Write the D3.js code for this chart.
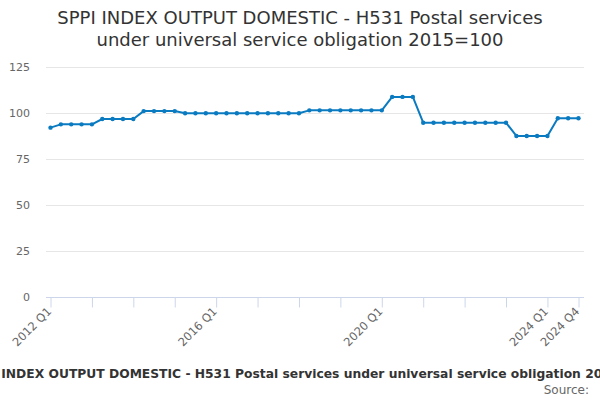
<!DOCTYPE html>
<html>
<head>
<meta charset="utf-8">
<script src="https://cdn.jsdelivr.net/npm/d3@7"></script>
<style>
  html, body { margin: 0; padding: 0; background: #fff; }
  svg { display: block; font-family: "DejaVu Sans", sans-serif; }
</style>
</head>
<body>
<svg id="chart" width="600" height="400"></svg>
<script>
const years = [2012, 2013, 2014, 2015, 2016, 2017, 2018, 2019, 2020, 2021, 2022, 2023, 2024];
const quarters = ["Q1", "Q2", "Q3", "Q4"];
const categories = [];
years.forEach(y => quarters.forEach(q => categories.push(y + " " + q)));
const values = [
  92.2,
  94.0, 94.0, 94.0, 94.0,
  96.9, 96.9, 96.9, 96.9,
  101.2, 101.2, 101.2, 101.2,
  100.0, 100.0, 100.0, 100.0, 100.0, 100.0, 100.0, 100.0, 100.0, 100.0, 100.0, 100.0,
  101.6, 101.6, 101.6, 101.6, 101.6, 101.6, 101.6, 101.6,
  108.9, 108.9, 108.9,
  94.9, 94.9, 94.9, 94.9, 94.9, 94.9, 94.9, 94.9, 94.9,
  87.7, 87.7, 87.7, 87.7,
  97.3, 97.3, 97.3
];
const yTicks = [0, 25, 50, 75, 100, 125];
const labelledTicks = ["2012 Q1", "2016 Q1", "2020 Q1", "2024 Q1", "2024 Q4"];
const tickCats = years.map(y => y + " Q1").concat(["2024 Q4"]);
const titleLines = ["SPPI INDEX OUTPUT DOMESTIC - H531 Postal services", "under universal service obligation 2015=100"];
const caption = "SPPI INDEX OUTPUT DOMESTIC - H531 Postal services under universal service obligation 2015=100";
const sourceText = "Source:";

const svg = d3.select("#chart");
const plotLeft = 46, plotRight = 584;
const x = d3.scalePoint().domain(categories).range([50.5, 578.5]);
const y = d3.scaleLinear().domain([0, 125]).range([297.3, 67.3]);
const axisY = Math.round(y(0)) + 0.5;

// title
svg.append("text").attr("x", 300).attr("y", 24).attr("text-anchor", "middle")
  .attr("fill", "#333").style("font-size", "18px")
  .selectAll("tspan").data(titleLines).join("tspan")
  .attr("x", 300).attr("dy", (d, i) => i === 0 ? 0 : 22).text(d => d);

// gridlines
svg.append("g").selectAll("line").data(yTicks.filter(d => d > 0)).join("line")
  .attr("x1", plotLeft).attr("x2", plotRight)
  .attr("y1", d => Math.round(y(d)) + 0.5).attr("y2", d => Math.round(y(d)) + 0.5)
  .attr("stroke", "#e6e6e6").attr("stroke-width", 1);

// y labels
svg.append("g").selectAll("text").data(yTicks).join("text")
  .attr("x", 30).attr("y", d => y(d) + 4).attr("text-anchor", "end")
  .attr("fill", "#666").style("font-size", "11px").text(d => d);

// x axis
const xAxis = d3.axisBottom(x).tickValues(tickCats).tickSize(10).tickFormat("");
const gx = svg.append("g").attr("transform", `translate(0,${axisY})`).call(xAxis);
gx.select(".domain").attr("d", `M${plotLeft},0H${plotRight}`).attr("stroke", "#ccd6eb");
gx.selectAll(".tick line").attr("stroke", "#ccd6eb");
gx.selectAll(".tick text").remove();

svg.append("g").selectAll("text").data(labelledTicks).join("text")
  .attr("transform", d => `translate(${x(d) + 1.6},${axisY + 14.6}) rotate(-45)`)
  .attr("text-anchor", "end")
  .attr("fill", "#666").style("font-size", "11.5px")
  .text(d => d);

// line
svg.append("path").datum(values)
  .attr("fill", "none").attr("stroke", "#0b7bc1").attr("stroke-width", 2)
  .attr("stroke-linejoin", "round")
  .attr("d", d3.line().x((d, i) => x(categories[i])).y(d => y(d)));

svg.append("g").selectAll("circle").data(values).join("circle")
  .attr("cx", (d, i) => x(categories[i])).attr("cy", d => y(d)).attr("r", 2.2)
  .attr("fill", "#0b7bc1");

// caption & source
svg.append("text").attr("x", -34.5).attr("y", 378).attr("text-anchor", "start")
  .attr("fill", "#333").style("font-size", "12.3px").style("font-weight", "bold").text(caption);
svg.append("text").attr("x", 589).attr("y", 394).attr("text-anchor", "end")
  .attr("fill", "#666").style("font-size", "12px").text(sourceText);
</script>
</body>
</html>
